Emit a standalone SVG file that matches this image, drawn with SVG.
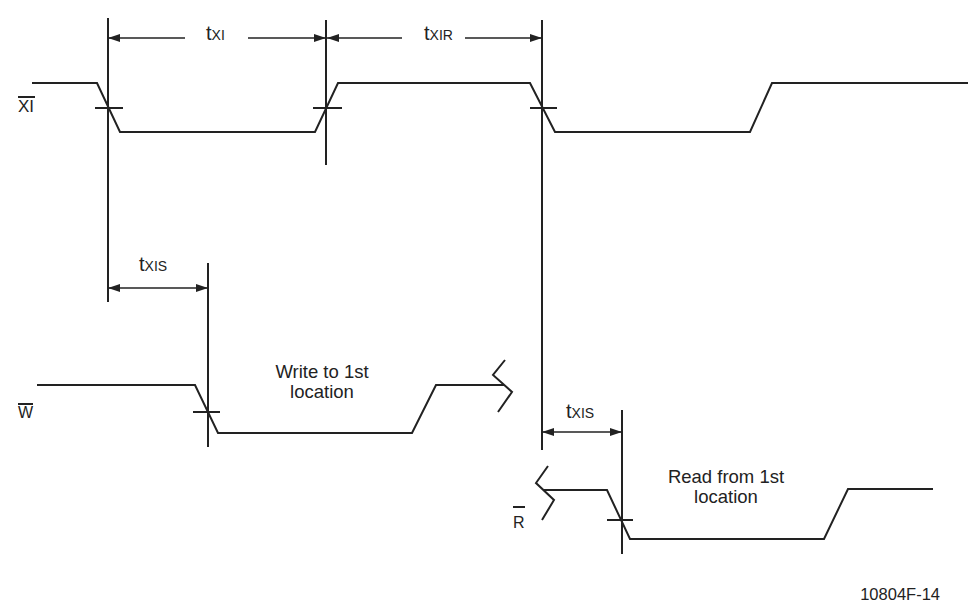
<svg xmlns="http://www.w3.org/2000/svg" width="972" height="614" viewBox="0 0 972 614">
<defs>
<style>
.sig{fill:none;stroke:#222;stroke-width:2;stroke-linejoin:miter}
.ln{fill:none;stroke:#222;stroke-width:2}
.dim{fill:none;stroke:#222;stroke-width:1.6}
.t{font-family:"Liberation Sans",Arial,sans-serif;fill:#222}
</style>
<marker id="ah" viewBox="0 0 12 8" refX="12" refY="4" markerWidth="12" markerHeight="8" orient="auto" markerUnits="userSpaceOnUse"><path d="M0,0 L12,4 L0,8 z" fill="#222"/></marker>
</defs>
<rect width="972" height="614" fill="#fff"/>
<g id="sig-xi">
<path class="sig" d="M32,83 H97 L120,132 H315 L338,83 H530 L555,132 H750 L772,83 H968"/>
<path class="ln" d="M95,108 H123 M313,108 H342 M530,108 H557"/>
<text class="t" x="18" y="112" font-size="17">XI</text>
<line class="ln" x1="18" y1="97" x2="35" y2="97" stroke-width="1.5"/>
</g>
<g id="sig-w">
<path class="sig" d="M37,385 H195 L218,433 H412 L436,385 H504"/>
<path class="sig" d="M505,360 L493,375 L512,392 L498,412"/>
<path class="ln" d="M193,412 H220"/>
<text class="t" x="18" y="418" font-size="16">W</text>
<line class="ln" x1="18" y1="404" x2="33" y2="404" stroke-width="1.5"/>
</g>
<g id="sig-r">
<path class="sig" d="M548,466 L536,483 L554,500 L542,520"/>
<path class="sig" d="M543,490 H607 L630,539 H824 L848,489 H933"/>
<path class="ln" d="M607,520 H633"/>
<text class="t" x="513" y="528" font-size="16">R</text>
<line class="ln" x1="513" y1="507" x2="525" y2="507" stroke-width="1.5"/>
</g>
<g id="connectors">
<path class="ln" d="M108,18 V302 M326,20 V165 M542,20 V450 M208,263 V447 M622,410 V554"/>
<path class="dim" marker-end="url(#ah)" d="M185,38 H108"/>
<path class="dim" marker-end="url(#ah)" d="M248,38 H326"/>
<path class="dim" marker-end="url(#ah)" d="M402,38 H327"/>
<path class="dim" marker-end="url(#ah)" d="M465,38 H542"/>
<path class="dim" marker-end="url(#ah)" d="M158,288 H108"/>
<path class="dim" marker-end="url(#ah)" d="M158,288 H208"/>
<path class="dim" marker-end="url(#ah)" d="M582,432 H542"/>
<path class="dim" marker-end="url(#ah)" d="M582,432 H622"/>
</g>
<g id="labels">
<text class="t" x="206" y="40" font-size="20">t<tspan font-size="14">XI</tspan></text>
<text class="t" x="424" y="40" font-size="20">t<tspan font-size="14">XIR</tspan></text>
<text class="t" x="139" y="271" font-size="20">t<tspan font-size="14">XIS</tspan></text>
<text class="t" x="566" y="418" font-size="20">t<tspan font-size="14">XIS</tspan></text>
<text class="t" x="322" y="378" font-size="18.5" text-anchor="middle">Write to 1st</text>
<text class="t" x="322" y="398" font-size="18.5" text-anchor="middle">location</text>
<text class="t" x="726" y="483" font-size="18.5" text-anchor="middle">Read from 1st</text>
<text class="t" x="726" y="503" font-size="18.5" text-anchor="middle">location</text>
<text class="t" x="940" y="600" font-size="16.5" text-anchor="end">10804F-14</text>
</g>
</svg>
